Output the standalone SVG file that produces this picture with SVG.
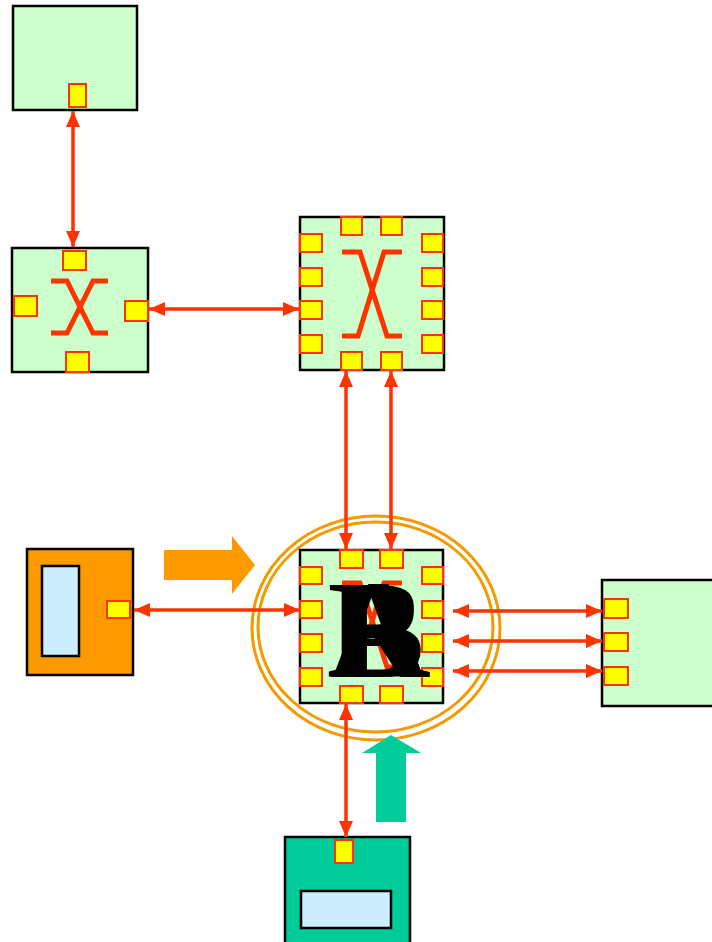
<svg xmlns="http://www.w3.org/2000/svg" width="712" height="942" viewBox="0 0 712 942">
<style>
.node{fill:#CCFFCC;stroke:#000;stroke-width:2.5}
.port{fill:#FFFF00;stroke:#FF3300;stroke-width:2}
.x{fill:none;stroke:#FF3300;stroke-width:5}
.link{stroke:#FF3300;stroke-width:3.5;fill:none;marker-start:url(#ah);marker-end:url(#ah)}
.ring{fill:none;stroke:#F29A00;stroke-width:3}
.inner{fill:#CCEEFF;stroke:#000;stroke-width:2.5}
.lbl{font-family:"Liberation Serif","Times New Roman",serif;font-weight:bold;font-size:140px;fill:#000}
</style>
<defs>
<marker id="ah" viewBox="0 0 16 14" refX="16" refY="7" markerWidth="16" markerHeight="14" markerUnits="userSpaceOnUse" orient="auto-start-reverse">
<path d="M0,0 L16,7 L0,14 z" fill="#FF3300"/>
</marker>
</defs>
<rect width="712" height="942" fill="#fff"/>

<g id="host-top">
<rect class="node" x="13" y="6" width="124" height="104"/>
<rect class="port" x="69" y="84" width="17" height="23"/>
</g>

<g id="switch-left">
<rect class="node" x="12" y="248" width="136" height="124"/>
<path class="x" d="M51,281 H67 L93,333 H108 M108,281 H93 L67,333 H51"/>
<rect class="port" x="63" y="251" width="23" height="19"/>
<rect class="port" x="14" y="296" width="23" height="20"/>
<rect class="port" x="125" y="301" width="23" height="20"/>
<rect class="port" x="66" y="352" width="23" height="20"/>
</g>

<g id="switch-mid">
<rect class="node" x="300" y="217" width="144" height="153"/>
<path class="x" d="M342,252 H360 L387,336 H402 M402,252 H384 L358,336 H342"/>
<rect class="port" x="341" y="217" width="21" height="18"/>
<rect class="port" x="381" y="217" width="21" height="18"/>
<rect class="port" x="300" y="234" width="22" height="18"/>
<rect class="port" x="300" y="268" width="22" height="18"/>
<rect class="port" x="300" y="301" width="22" height="18"/>
<rect class="port" x="300" y="335" width="22" height="18"/>
<rect class="port" x="422" y="234" width="21" height="18"/>
<rect class="port" x="422" y="268" width="21" height="18"/>
<rect class="port" x="422" y="301" width="21" height="18"/>
<rect class="port" x="422" y="335" width="21" height="18"/>
<rect class="port" x="341" y="352" width="21" height="18"/>
<rect class="port" x="381" y="352" width="21" height="18"/>
</g>

<g id="router-center">
<ellipse class="ring" cx="376" cy="628" rx="124" ry="112"/>
<ellipse class="ring" cx="375.5" cy="627" rx="117.5" ry="105"/>
<rect class="node" x="300" y="550" width="143" height="153"/>
<path class="x" d="M342,583 H360 L387,667 H402 M402,583 H384 L358,667 H342"/>
<rect class="port" x="340" y="550" width="23" height="18"/>
<rect class="port" x="380" y="550" width="23" height="18"/>
<rect class="port" x="300" y="567" width="22" height="17"/>
<rect class="port" x="300" y="601" width="22" height="17"/>
<rect class="port" x="300" y="634" width="22" height="18"/>
<rect class="port" x="300" y="668" width="22" height="18"/>
<rect class="port" x="422" y="567" width="21" height="17"/>
<rect class="port" x="422" y="601" width="21" height="17"/>
<rect class="port" x="422" y="634" width="21" height="18"/>
<rect class="port" x="422" y="668" width="21" height="18"/>
<rect class="port" x="340" y="686" width="23" height="17"/>
<rect class="port" x="380" y="686" width="23" height="17"/>
<text class="lbl" x="378" y="677" text-anchor="middle">R</text>
<text class="lbl" x="378" y="677" text-anchor="middle">A</text>
<text class="lbl" x="378" y="677" text-anchor="middle">B</text>
</g>

<g id="host-left">
<rect x="27" y="549" width="106" height="126" fill="#FF9900" stroke="#000" stroke-width="2.5"/>
<rect class="inner" x="42" y="566" width="37" height="90"/>
<rect class="port" x="107" y="601" width="23" height="17"/>
</g>

<g id="host-right">
<rect class="node" x="602" y="580" width="120" height="126"/>
<rect class="port" x="604" y="599" width="24" height="19"/>
<rect class="port" x="604" y="633" width="24" height="18"/>
<rect class="port" x="604" y="667" width="24" height="18"/>
</g>

<g id="host-bottom">
<rect x="285" y="837" width="125" height="110" fill="#00CC99" stroke="#000" stroke-width="2.5"/>
<rect class="inner" x="301" y="891" width="90" height="37"/>
<rect class="port" x="335" y="840" width="18" height="23"/>
</g>

<g id="flow-arrows">
<path d="M164,550 H232 V536 L255,565 L232,594 V580 H164 z" fill="#FF9900"/>
<path d="M376,822 V753 H362 L391,735 L421,753 H406 V822 z" fill="#00CC99"/>
</g>

<g id="connectors">
<line class="link" x1="73" y1="111" x2="73" y2="247"/>
<line class="link" x1="149" y1="309" x2="299" y2="309"/>
<line class="link" x1="346" y1="371" x2="346" y2="549"/>
<line class="link" x1="391" y1="371" x2="391" y2="549"/>
<line class="link" x1="134" y1="610" x2="300" y2="610"/>
<line class="link" x1="453" y1="611" x2="602" y2="611"/>
<line class="link" x1="453" y1="641" x2="602" y2="641"/>
<line class="link" x1="453" y1="671" x2="602" y2="671"/>
<line class="link" x1="346" y1="704" x2="346" y2="837"/>
</g>
</svg>
